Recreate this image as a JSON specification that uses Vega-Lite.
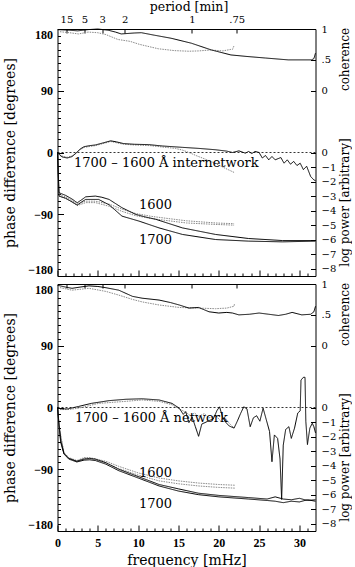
{
  "$schema": "https://vega.github.io/schema/vega-lite/v6.json",
  "padding": {"left": 2.5, "top": 0, "right": 0, "bottom": 0},
  "background": "white",
  "config": {
    "view": {"stroke": "black", "strokeWidth": 1},
    "axis": {"domain": false, "grid": false, "tickColor": "black", "labelColor": "black", "titleColor": "black", "labelFont": "Liberation Serif", "titleFont": "DejaVu Serif", "titleFontWeight": "normal", "labelFlush": false, "tickWidth": 1}
  },
  "datasets": {
    "phase": [
      {"p":"t","c":"g","f":0,"v":-1},{"p":"t","c":"g","f":0.5,"v":-5},{"p":"t","c":"g","f":1.2,"v":-7},{"p":"t","c":"g","f":1.8,"v":-5},{"p":"t","c":"g","f":2.3,"v":-1},{"p":"t","c":"g","f":2.8,"v":4},{"p":"t","c":"g","f":3.3,"v":7.5},{"p":"t","c":"g","f":4.7,"v":10},{"p":"t","c":"g","f":6.6,"v":16},{"p":"t","c":"g","f":8.2,"v":12},{"p":"t","c":"g","f":9.5,"v":11},{"p":"t","c":"g","f":11.5,"v":10},{"p":"t","c":"g","f":13,"v":8},{"p":"t","c":"g","f":14.6,"v":6},{"p":"t","c":"g","f":15.5,"v":3.5},{"p":"t","c":"g","f":16.3,"v":0},{"p":"t","c":"g","f":17.3,"v":-5},{"p":"t","c":"g","f":18.4,"v":-10},{"p":"t","c":"g","f":19.6,"v":-16},{"p":"t","c":"g","f":20.8,"v":-23},{"p":"t","c":"g","f":21.9,"v":-29},
      {"p":"t","c":"k","f":0,"v":0},{"p":"t","c":"k","f":0.3,"v":-4},{"p":"t","c":"k","f":0.6,"v":-6.5},{"p":"t","c":"k","f":1.2,"v":-8},{"p":"t","c":"k","f":1.8,"v":-6},{"p":"t","c":"k","f":2.3,"v":-1},{"p":"t","c":"k","f":2.8,"v":5},{"p":"t","c":"k","f":3.3,"v":8.5},{"p":"t","c":"k","f":4.0,"v":10},{"p":"t","c":"k","f":4.7,"v":11},{"p":"t","c":"k","f":5.5,"v":13.5},{"p":"t","c":"k","f":6.6,"v":17},{"p":"t","c":"k","f":7.3,"v":15.5},{"p":"t","c":"k","f":8.2,"v":13},{"p":"t","c":"k","f":9.5,"v":12},{"p":"t","c":"k","f":11.3,"v":11.5},{"p":"t","c":"k","f":13,"v":9.5},{"p":"t","c":"k","f":15.5,"v":7.5},{"p":"t","c":"k","f":17.5,"v":6},{"p":"t","c":"k","f":19.6,"v":4},{"p":"t","c":"k","f":21,"v":2},{"p":"t","c":"k","f":21.7,"v":0},{"p":"t","c":"k","f":22.5,"v":2.4},{"p":"t","c":"k","f":23.3,"v":-1},{"p":"t","c":"k","f":23.7,"v":1.5},{"p":"t","c":"k","f":24.1,"v":-1.5},{"p":"t","c":"k","f":24.5,"v":1.5},{"p":"t","c":"k","f":25,"v":0},{"p":"t","c":"k","f":25.4,"v":-8},{"p":"t","c":"k","f":25.8,"v":-4.4},{"p":"t","c":"k","f":26.2,"v":-10.7},{"p":"t","c":"k","f":26.6,"v":-5.8},{"p":"t","c":"k","f":27,"v":-10.7},{"p":"t","c":"k","f":27.7,"v":-7.3},{"p":"t","c":"k","f":28.1,"v":-15.6},{"p":"t","c":"k","f":28.5,"v":-10.7},{"p":"t","c":"k","f":28.9,"v":-17},{"p":"t","c":"k","f":29.3,"v":-13},{"p":"t","c":"k","f":29.7,"v":-19},{"p":"t","c":"k","f":30.1,"v":-15.6},{"p":"t","c":"k","f":30.5,"v":-25},{"p":"t","c":"k","f":30.9,"v":-20},{"p":"t","c":"k","f":31.4,"v":-35},{"p":"t","c":"k","f":31.8,"v":-40},{"p":"t","c":"k","f":32,"v":-41},
      {"p":"b","c":"g","f":0,"v":-3},{"p":"b","c":"g","f":1.3,"v":-3},{"p":"b","c":"g","f":2.6,"v":-1},{"p":"b","c":"g","f":5.1,"v":6},{"p":"b","c":"g","f":8.5,"v":9},{"p":"b","c":"g","f":10.5,"v":11},{"p":"b","c":"g","f":12.6,"v":9},{"p":"b","c":"g","f":14.2,"v":4},{"p":"b","c":"g","f":15.1,"v":-2},{"p":"b","c":"g","f":15.9,"v":-7},{"p":"b","c":"g","f":16.5,"v":-12},{"p":"b","c":"g","f":17.0,"v":-8},{"p":"b","c":"g","f":17.5,"v":-13},{"p":"b","c":"g","f":18.2,"v":-9},{"p":"b","c":"g","f":18.8,"v":-15},{"p":"b","c":"g","f":19.6,"v":-12},{"p":"b","c":"g","f":20.2,"v":-19},{"p":"b","c":"g","f":20.8,"v":-15},{"p":"b","c":"g","f":21.3,"v":-23},{"p":"b","c":"g","f":21.9,"v":-30},
      {"p":"b","c":"k","f":0,"v":-1},{"p":"b","c":"k","f":0.6,"v":-2},{"p":"b","c":"k","f":1.3,"v":-2},{"p":"b","c":"k","f":2.6,"v":1.5},{"p":"b","c":"k","f":4.2,"v":6},{"p":"b","c":"k","f":6.4,"v":10},{"p":"b","c":"k","f":8.5,"v":12},{"p":"b","c":"k","f":10.5,"v":12.7},{"p":"b","c":"k","f":12.6,"v":11},{"p":"b","c":"k","f":14.2,"v":6},{"p":"b","c":"k","f":15.1,"v":-1},{"p":"b","c":"k","f":15.6,"v":-10},{"p":"b","c":"k","f":15.9,"v":-6},{"p":"b","c":"k","f":16.3,"v":-22},{"p":"b","c":"k","f":16.7,"v":-14},{"p":"b","c":"k","f":17.1,"v":-28},{"p":"b","c":"k","f":17.5,"v":-42},{"p":"b","c":"k","f":17.9,"v":-24},{"p":"b","c":"k","f":18.3,"v":-22},{"p":"b","c":"k","f":18.8,"v":-19},{"p":"b","c":"k","f":19.3,"v":-17},{"p":"b","c":"k","f":19.8,"v":-4},{"p":"b","c":"k","f":20.1,"v":1},{"p":"b","c":"k","f":20.5,"v":-15},{"p":"b","c":"k","f":20.9,"v":-22},{"p":"b","c":"k","f":21.3,"v":-27},{"p":"b","c":"k","f":21.9,"v":-30},{"p":"b","c":"k","f":22.3,"v":-20},{"p":"b","c":"k","f":22.7,"v":-9},{"p":"b","c":"k","f":23.1,"v":1},{"p":"b","c":"k","f":23.5,"v":-2},{"p":"b","c":"k","f":23.9,"v":-28},{"p":"b","c":"k","f":24.3,"v":-15},{"p":"b","c":"k","f":24.7,"v":-12},{"p":"b","c":"k","f":25.1,"v":-20},{"p":"b","c":"k","f":25.5,"v":-1},{"p":"b","c":"k","f":25.9,"v":-18},{"p":"b","c":"k","f":26.3,"v":-35},{"p":"b","c":"k","f":26.6,"v":-79},{"p":"b","c":"k","f":26.9,"v":-40},{"p":"b","c":"k","f":27.3,"v":-45},{"p":"b","c":"k","f":27.6,"v":-75},{"p":"b","c":"k","f":27.8,"v":-134},{"p":"b","c":"k","f":28.0,"v":-55},{"p":"b","c":"k","f":28.3,"v":-32},{"p":"b","c":"k","f":28.7,"v":-28},{"p":"b","c":"k","f":29.0,"v":-45},{"p":"b","c":"k","f":29.4,"v":-30},{"p":"b","c":"k","f":29.8,"v":-8},{"p":"b","c":"k","f":30.1,"v":-5},{"p":"b","c":"k","f":30.2,"v":40},{"p":"b","c":"k","f":30.5,"v":44},{"p":"b","c":"k","f":30.7,"v":44},{"p":"b","c":"k","f":30.8,"v":-20},{"p":"b","c":"k","f":31.0,"v":-54},{"p":"b","c":"k","f":31.3,"v":-30},{"p":"b","c":"k","f":31.6,"v":-23},{"p":"b","c":"k","f":31.8,"v":-28},{"p":"b","c":"k","f":32,"v":-37}
    ],
    "coh": [
      {"p":"t","c":"g","f":0,"v":0.96},{"p":"t","c":"g","f":1.5,"v":0.94},{"p":"t","c":"g","f":2.6,"v":0.92},{"p":"t","c":"g","f":3.8,"v":0.95},{"p":"t","c":"g","f":5,"v":0.94},{"p":"t","c":"g","f":6,"v":0.91},{"p":"t","c":"g","f":7.5,"v":0.83},{"p":"t","c":"g","f":9,"v":0.8},{"p":"t","c":"g","f":10.2,"v":0.75},{"p":"t","c":"g","f":12.5,"v":0.68},{"p":"t","c":"g","f":14.5,"v":0.65},{"p":"t","c":"g","f":16.3,"v":0.64},{"p":"t","c":"g","f":17.5,"v":0.645},{"p":"t","c":"g","f":19,"v":0.66},{"p":"t","c":"g","f":20.5,"v":0.645},{"p":"t","c":"g","f":21.5,"v":0.67},{"p":"t","c":"g","f":21.7,"v":0.67},{"p":"t","c":"g","f":21.9,"v":0.73},
      {"p":"t","c":"k","f":0,"v":0.99},{"p":"t","c":"k","f":1.5,"v":0.98},{"p":"t","c":"k","f":2.5,"v":0.97},{"p":"t","c":"k","f":3.8,"v":0.99},{"p":"t","c":"k","f":5,"v":1.0},{"p":"t","c":"k","f":6.3,"v":0.98},{"p":"t","c":"k","f":7.2,"v":0.95},{"p":"t","c":"k","f":7.9,"v":0.92},{"p":"t","c":"k","f":9.5,"v":0.935},{"p":"t","c":"k","f":10.4,"v":0.94},{"p":"t","c":"k","f":12,"v":0.9},{"p":"t","c":"k","f":14.1,"v":0.85},{"p":"t","c":"k","f":16.6,"v":0.77},{"p":"t","c":"k","f":19.1,"v":0.66},{"p":"t","c":"k","f":21.5,"v":0.58},{"p":"t","c":"k","f":23.5,"v":0.555},{"p":"t","c":"k","f":25.8,"v":0.53},{"p":"t","c":"k","f":28.6,"v":0.5},{"p":"t","c":"k","f":31.5,"v":0.5},{"p":"t","c":"k","f":31.8,"v":0.52},{"p":"t","c":"k","f":32,"v":0.61},
      {"p":"b","c":"g","f":0,"v":0.95},{"p":"b","c":"g","f":1.8,"v":0.9},{"p":"b","c":"g","f":3.9,"v":0.93},{"p":"b","c":"g","f":6,"v":0.88},{"p":"b","c":"g","f":7.6,"v":0.82},{"p":"b","c":"g","f":9.3,"v":0.75},{"p":"b","c":"g","f":10.5,"v":0.71},{"p":"b","c":"g","f":12.6,"v":0.66},{"p":"b","c":"g","f":15.1,"v":0.62},{"p":"b","c":"g","f":17.5,"v":0.61},{"p":"b","c":"g","f":19.6,"v":0.6},{"p":"b","c":"g","f":21,"v":0.61},{"p":"b","c":"g","f":21.9,"v":0.64},{"p":"b","c":"g","f":21.95,"v":0.68},
      {"p":"b","c":"k","f":0,"v":0.98},{"p":"b","c":"k","f":1,"v":0.95},{"p":"b","c":"k","f":1.8,"v":0.93},{"p":"b","c":"k","f":2.8,"v":0.95},{"p":"b","c":"k","f":3.9,"v":0.97},{"p":"b","c":"k","f":5,"v":0.96},{"p":"b","c":"k","f":6,"v":0.94},{"p":"b","c":"k","f":7.6,"v":0.9},{"p":"b","c":"k","f":9.3,"v":0.8},{"p":"b","c":"k","f":10.5,"v":0.77},{"p":"b","c":"k","f":12.6,"v":0.74},{"p":"b","c":"k","f":14,"v":0.7},{"p":"b","c":"k","f":15.1,"v":0.66},{"p":"b","c":"k","f":16.3,"v":0.61},{"p":"b","c":"k","f":17.5,"v":0.62},{"p":"b","c":"k","f":18.8,"v":0.55},{"p":"b","c":"k","f":20,"v":0.53},{"p":"b","c":"k","f":21,"v":0.54},{"p":"b","c":"k","f":21.7,"v":0.53},{"p":"b","c":"k","f":22.5,"v":0.5},{"p":"b","c":"k","f":23.8,"v":0.51},{"p":"b","c":"k","f":25,"v":0.53},{"p":"b","c":"k","f":26.2,"v":0.51},{"p":"b","c":"k","f":27.4,"v":0.49},{"p":"b","c":"k","f":28.3,"v":0.51},{"p":"b","c":"k","f":29.1,"v":0.54},{"p":"b","c":"k","f":29.7,"v":0.52},{"p":"b","c":"k","f":30.3,"v":0.5},{"p":"b","c":"k","f":31.4,"v":0.51},{"p":"b","c":"k","f":31.8,"v":0.55},{"p":"b","c":"k","f":32,"v":0.64}
    ],
    "pow": [
      {"p":"t","s":"g16","c":"g","f":0.19,"v":-2.9},{"p":"t","s":"g16","c":"g","f":1,"v":-3.05},{"p":"t","s":"g16","c":"g","f":1.8,"v":-3.3},{"p":"t","s":"g16","c":"g","f":2.45,"v":-3.55},{"p":"t","s":"g16","c":"g","f":3.5,"v":-3.35},{"p":"t","s":"g16","c":"g","f":4.7,"v":-3.35},{"p":"t","s":"g16","c":"g","f":6.4,"v":-3.55},{"p":"t","s":"g16","c":"g","f":8,"v":-3.9},{"p":"t","s":"g16","c":"g","f":9.7,"v":-4.2},{"p":"t","s":"g16","c":"g","f":11.7,"v":-4.4},{"p":"t","s":"g16","c":"g","f":13.8,"v":-4.55},{"p":"t","s":"g16","c":"g","f":16,"v":-4.7},{"p":"t","s":"g16","c":"g","f":19.6,"v":-4.85},{"p":"t","s":"g16","c":"g","f":21.9,"v":-4.9},
      {"p":"t","s":"g17","c":"g","f":0.19,"v":-3.0},{"p":"t","s":"g17","c":"g","f":1,"v":-3.15},{"p":"t","s":"g17","c":"g","f":1.8,"v":-3.4},{"p":"t","s":"g17","c":"g","f":2.45,"v":-3.65},{"p":"t","s":"g17","c":"g","f":3.5,"v":-3.45},{"p":"t","s":"g17","c":"g","f":4.7,"v":-3.45},{"p":"t","s":"g17","c":"g","f":6.4,"v":-3.7},{"p":"t","s":"g17","c":"g","f":8,"v":-4.05},{"p":"t","s":"g17","c":"g","f":9.7,"v":-4.35},{"p":"t","s":"g17","c":"g","f":11.7,"v":-4.55},{"p":"t","s":"g17","c":"g","f":13.8,"v":-4.7},{"p":"t","s":"g17","c":"g","f":16,"v":-4.85},{"p":"t","s":"g17","c":"g","f":19.6,"v":-4.95},{"p":"t","s":"g17","c":"g","f":21.9,"v":-5.0},
      {"p":"t","s":"k16","c":"k","f":0,"v":0},{"p":"t","s":"k16","c":"k","f":0.19,"v":-2.77},{"p":"t","s":"k16","c":"k","f":1,"v":-2.95},{"p":"t","s":"k16","c":"k","f":1.8,"v":-3.2},{"p":"t","s":"k16","c":"k","f":2.45,"v":-3.46},{"p":"t","s":"k16","c":"k","f":3,"v":-3.25},{"p":"t","s":"k16","c":"k","f":3.5,"v":-3.05},{"p":"t","s":"k16","c":"k","f":4.7,"v":-3.0},{"p":"t","s":"k16","c":"k","f":5.5,"v":-3.08},{"p":"t","s":"k16","c":"k","f":6.4,"v":-3.23},{"p":"t","s":"k16","c":"k","f":8,"v":-3.8},{"p":"t","s":"k16","c":"k","f":9.7,"v":-4.26},{"p":"t","s":"k16","c":"k","f":11,"v":-4.45},{"p":"t","s":"k16","c":"k","f":12.2,"v":-4.6},{"p":"t","s":"k16","c":"k","f":15.5,"v":-5.19},{"p":"t","s":"k16","c":"k","f":19.6,"v":-5.64},{"p":"t","s":"k16","c":"k","f":23.7,"v":-5.92},{"p":"t","s":"k16","c":"k","f":27.9,"v":-6.06},{"p":"t","s":"k16","c":"k","f":32,"v":-6.06},
      {"p":"t","s":"k17","c":"k","f":0,"v":0},{"p":"t","s":"k17","c":"k","f":0.19,"v":-3.0},{"p":"t","s":"k17","c":"k","f":1,"v":-3.15},{"p":"t","s":"k17","c":"k","f":1.8,"v":-3.4},{"p":"t","s":"k17","c":"k","f":2.45,"v":-3.62},{"p":"t","s":"k17","c":"k","f":3,"v":-3.4},{"p":"t","s":"k17","c":"k","f":3.5,"v":-3.23},{"p":"t","s":"k17","c":"k","f":5.1,"v":-3.23},{"p":"t","s":"k17","c":"k","f":6.4,"v":-3.6},{"p":"t","s":"k17","c":"k","f":8,"v":-4.38},{"p":"t","s":"k17","c":"k","f":10.1,"v":-4.72},{"p":"t","s":"k17","c":"k","f":12.6,"v":-5.19},{"p":"t","s":"k17","c":"k","f":15.5,"v":-5.64},{"p":"t","s":"k17","c":"k","f":19.6,"v":-5.99},{"p":"t","s":"k17","c":"k","f":23.7,"v":-6.1},{"p":"t","s":"k17","c":"k","f":27.9,"v":-6.15},{"p":"t","s":"k17","c":"k","f":32,"v":-6.1},
      {"p":"b","s":"g16","c":"g","f":0.2,"v":-1.3},{"p":"b","s":"g16","c":"g","f":0.8,"v":-3.1},{"p":"b","s":"g16","c":"g","f":1.4,"v":-3.45},{"p":"b","s":"g16","c":"g","f":2.4,"v":-3.65},{"p":"b","s":"g16","c":"g","f":3.3,"v":-3.45},{"p":"b","s":"g16","c":"g","f":4,"v":-3.45},{"p":"b","s":"g16","c":"g","f":6,"v":-3.7},{"p":"b","s":"g16","c":"g","f":7.6,"v":-4.05},{"p":"b","s":"g16","c":"g","f":10,"v":-4.5},{"p":"b","s":"g16","c":"g","f":12.6,"v":-4.85},{"p":"b","s":"g16","c":"g","f":15,"v":-5.05},{"p":"b","s":"g16","c":"g","f":17.5,"v":-5.2},{"p":"b","s":"g16","c":"g","f":20,"v":-5.3},{"p":"b","s":"g16","c":"g","f":22,"v":-5.35},
      {"p":"b","s":"g17","c":"g","f":0.2,"v":-1.4},{"p":"b","s":"g17","c":"g","f":0.8,"v":-3.15},{"p":"b","s":"g17","c":"g","f":1.4,"v":-3.5},{"p":"b","s":"g17","c":"g","f":2.4,"v":-3.7},{"p":"b","s":"g17","c":"g","f":3.3,"v":-3.5},{"p":"b","s":"g17","c":"g","f":4,"v":-3.5},{"p":"b","s":"g17","c":"g","f":6,"v":-3.8},{"p":"b","s":"g17","c":"g","f":7.6,"v":-4.2},{"p":"b","s":"g17","c":"g","f":10,"v":-4.65},{"p":"b","s":"g17","c":"g","f":12.6,"v":-5.05},{"p":"b","s":"g17","c":"g","f":15,"v":-5.25},{"p":"b","s":"g17","c":"g","f":17.5,"v":-5.4},{"p":"b","s":"g17","c":"g","f":20,"v":-5.5},{"p":"b","s":"g17","c":"g","f":22,"v":-5.55},
      {"p":"b","s":"k16","c":"k","f":0,"v":0},{"p":"b","s":"k16","c":"k","f":0.2,"v":-1.2},{"p":"b","s":"k16","c":"k","f":0.4,"v":-2.3},{"p":"b","s":"k16","c":"k","f":0.8,"v":-3.15},{"p":"b","s":"k16","c":"k","f":1.4,"v":-3.5},{"p":"b","s":"k16","c":"k","f":2.4,"v":-3.7},{"p":"b","s":"k16","c":"k","f":3.3,"v":-3.55},{"p":"b","s":"k16","c":"k","f":4,"v":-3.5},{"p":"b","s":"k16","c":"k","f":4.7,"v":-3.55},{"p":"b","s":"k16","c":"k","f":6,"v":-3.8},{"p":"b","s":"k16","c":"k","f":7.6,"v":-4.25},{"p":"b","s":"k16","c":"k","f":10,"v":-4.75},{"p":"b","s":"k16","c":"k","f":12.6,"v":-5.3},{"p":"b","s":"k16","c":"k","f":15,"v":-5.6},{"p":"b","s":"k16","c":"k","f":17.5,"v":-5.9},{"p":"b","s":"k16","c":"k","f":20,"v":-6.05},{"p":"b","s":"k16","c":"k","f":23.7,"v":-6.2},{"p":"b","s":"k16","c":"k","f":26,"v":-6.3},{"p":"b","s":"k16","c":"k","f":27,"v":-6.15},{"p":"b","s":"k16","c":"k","f":28,"v":-6.3},{"p":"b","s":"k16","c":"k","f":29,"v":-6.35},{"p":"b","s":"k16","c":"k","f":30,"v":-6.25},{"p":"b","s":"k16","c":"k","f":31,"v":-6.4},{"p":"b","s":"k16","c":"k","f":32,"v":-6.35},
      {"p":"b","s":"k17","c":"k","f":0,"v":0},{"p":"b","s":"k17","c":"k","f":0.2,"v":-1.3},{"p":"b","s":"k17","c":"k","f":0.4,"v":-2.4},{"p":"b","s":"k17","c":"k","f":0.8,"v":-3.2},{"p":"b","s":"k17","c":"k","f":1.4,"v":-3.55},{"p":"b","s":"k17","c":"k","f":2.4,"v":-3.75},{"p":"b","s":"k17","c":"k","f":3.3,"v":-3.62},{"p":"b","s":"k17","c":"k","f":4,"v":-3.6},{"p":"b","s":"k17","c":"k","f":4.7,"v":-3.65},{"p":"b","s":"k17","c":"k","f":6,"v":-3.9},{"p":"b","s":"k17","c":"k","f":7.6,"v":-4.35},{"p":"b","s":"k17","c":"k","f":10,"v":-4.85},{"p":"b","s":"k17","c":"k","f":12.6,"v":-5.4},{"p":"b","s":"k17","c":"k","f":15,"v":-5.75},{"p":"b","s":"k17","c":"k","f":17.5,"v":-6.0},{"p":"b","s":"k17","c":"k","f":20,"v":-6.15},{"p":"b","s":"k17","c":"k","f":23.7,"v":-6.3},{"p":"b","s":"k17","c":"k","f":26,"v":-6.4},{"p":"b","s":"k17","c":"k","f":27,"v":-6.45},{"p":"b","s":"k17","c":"k","f":28,"v":-6.55},{"p":"b","s":"k17","c":"k","f":29,"v":-6.45},{"p":"b","s":"k17","c":"k","f":30,"v":-6.5},{"p":"b","s":"k17","c":"k","f":31,"v":-6.35},{"p":"b","s":"k17","c":"k","f":32,"v":-6.45}
    ],
    "txt": [
      {"p":"t","f":2.05,"v":-15.6,"t":"1700 – 1600 Å internetwork"},
      {"p":"t","f":10.1,"v":-77,"t":"1600"},
      {"p":"t","f":10.1,"v":-128,"t":"1700"},
      {"p":"b","f":2.17,"v":-14.6,"t":"1700 – 1600 Å network"},
      {"p":"b","f":10.1,"v":-96,"t":"1600"},
      {"p":"b","f":10.1,"v":-141,"t":"1700"}
    ]
  },
  "spacing": 8,
  "bounds": "flush",
  "vconcat": [
    {
      "width": 258, "height": 247,
      "resolve": {"scale": {"y": "independent"}, "axis": {"x": "independent", "y": "independent"}},
      "layer": [
        {
          "data": {"values": [{}]},
          "mark": {"type": "rule", "strokeDash": [2, 2], "strokeWidth": 0.8, "color": "black"},
          "encoding": {
            "y": {"datum": 0, "type": "quantitative", "scale": {"domain": [-180, 180], "nice": false}, "axis": {"orient": "left", "values": [-170,-160,-150,-140,-130,-120,-110,-100,-80,-70,-60,-50,-40,-30,-20,-10,10,20,30,40,50,60,70,80,100,110,120,130,140,150,160,170], "tickSize": -3, "labels": false, "title": null}}
          }
        },
        {
          "data": {"name": "phase"},
          "transform": [{"filter": "datum.p == 't'"}],
          "mark": {"type": "line", "strokeWidth": 1},
          "encoding": {
            "x": {"field": "f", "type": "quantitative", "scale": {"domain": [0, 32], "nice": false, "zero": false}, "axis": {"orient": "bottom", "values": [0, 5, 10, 15, 20, 25, 30], "tickSize": -6, "labels": false, "title": null}},
            "y": {"field": "v", "type": "quantitative", "scale": {"domain": [-180, 180], "nice": false}, "axis": {"orient": "left", "values": [-180, -90, 0, 90, 180], "format": "d", "tickSize": -6, "labelPadding": 11, "labelFontSize": 12, "labelFontWeight": "bold", "labelFlush": true, "title": "phase difference [degrees]", "titleFontSize": 14, "titleX": -47, "titleY": 123.5, "titleAngle": 270, "titleAlign": "center", "titleBaseline": "middle"}},
            "color": {"field": "c", "type": "nominal", "scale": {"domain": ["k", "g"], "range": ["black", "#8a8a8a"]}, "legend": null},
            "strokeDash": {"field": "c", "type": "nominal", "scale": {"domain": ["k", "g"], "range": [[1, 0], [1.5, 1]]}, "legend": null}
          }
        },
        {
          "data": {"name": "coh"},
          "transform": [{"filter": "datum.p == 't'"}],
          "mark": {"type": "line", "strokeWidth": 1},
          "encoding": {
            "x": {"field": "f", "type": "quantitative", "scale": {"domain": [0, 32], "nice": false, "zero": false}, "axis": {"orient": "top", "values": [1.1111, 3.3333, 5.5556, 8.3333, 16.6667, 22.2222], "labelExpr": "datum.value < 2 ? '15' : datum.value < 4 ? '5' : datum.value < 6 ? '3' : datum.value < 10 ? '2' : datum.value < 20 ? '1' : '.75'", "tickSize": -4, "labelPadding": 9, "labelFont": "DejaVu Serif", "labelFontSize": 10, "title": "period [min]", "titleFontSize": 12.5, "titleX": 131, "titleY": -22.5, "titleBaseline": "middle", "titleAlign": "center"}},
            "y": {"field": "v", "type": "quantitative", "scale": {"domain": [-3, 1], "nice": false, "zero": false}, "axis": {"orient": "right", "values": [0, 0.5, 1], "labelExpr": "datum.value == 0.5 ? '.5' : datum.label", "tickSize": -5, "labelPadding": 10.5, "labelFont": "DejaVu Serif", "labelFontSize": 10, "title": "coherence", "titleFontSize": 12, "titleX": 29, "titleY": 30, "titleAngle": 270, "titleAlign": "center", "titleBaseline": "middle"}},
            "color": {"field": "c", "type": "nominal", "scale": {"domain": ["k", "g"], "range": ["black", "#8a8a8a"]}, "legend": null},
            "strokeDash": {"field": "c", "type": "nominal", "scale": {"domain": ["k", "g"], "range": [[1, 0], [1.5, 1]]}, "legend": null}
          }
        },
        {
          "data": {"name": "pow"},
          "transform": [{"filter": "datum.p == 't'"}],
          "mark": {"type": "line", "strokeWidth": 1},
          "encoding": {
            "x": {"field": "f", "type": "quantitative", "scale": {"domain": [0, 32], "nice": false, "zero": false}, "axis": null},
            "y": {"field": "v", "type": "quantitative", "scale": {"domain": [-8.5, 8.5], "nice": false, "zero": false}, "axis": {"orient": "right", "values": [0, -1, -2, -3, -4, -5, -6, -7, -8], "format": "d", "tickSize": -5, "labelPadding": 10.5, "labelFont": "DejaVu Serif", "labelFontSize": 10, "title": "log power [arbitrary]", "titleFontSize": 12, "titleX": 29, "titleY": 173, "titleAngle": 270, "titleAlign": "center", "titleBaseline": "middle"}},
            "detail": {"field": "s", "type": "nominal"},
            "color": {"field": "c", "type": "nominal", "scale": {"domain": ["k", "g"], "range": ["black", "#8a8a8a"]}, "legend": null},
            "strokeDash": {"field": "c", "type": "nominal", "scale": {"domain": ["k", "g"], "range": [[1, 0], [1.5, 1]]}, "legend": null}
          }
        },
        {
          "data": {"name": "txt"},
          "transform": [{"filter": "datum.p == 't'"}],
          "mark": {"type": "text", "align": "left", "baseline": "middle", "font": "DejaVu Serif", "fontSize": 13, "color": "black"},
          "encoding": {
            "x": {"field": "f", "type": "quantitative", "scale": {"domain": [0, 32], "nice": false, "zero": false}, "axis": {"orient": "bottom", "values": [1,2,3,4,6,7,8,9,11,12,13,14,16,17,18,19,21,22,23,24,26,27,28,29,31], "tickSize": -3, "labels": false, "title": null}},
            "y": {"field": "v", "type": "quantitative", "scale": {"domain": [-180, 180], "nice": false}, "axis": null},
            "text": {"field": "t"}
          }
        }
      ]
    },
    {
      "width": 258, "height": 247,
      "resolve": {"scale": {"y": "independent"}, "axis": {"x": "independent", "y": "independent"}},
      "layer": [
        {
          "data": {"values": [{}]},
          "mark": {"type": "rule", "strokeDash": [2, 2], "strokeWidth": 0.8, "color": "black"},
          "encoding": {
            "y": {"datum": 0, "type": "quantitative", "scale": {"domain": [-180, 180], "nice": false}, "axis": {"orient": "left", "values": [-170,-160,-150,-140,-130,-120,-110,-100,-80,-70,-60,-50,-40,-30,-20,-10,10,20,30,40,50,60,70,80,100,110,120,130,140,150,160,170], "tickSize": -3, "labels": false, "title": null}}
          }
        },
        {
          "data": {"name": "phase"},
          "transform": [{"filter": "datum.p == 'b'"}],
          "mark": {"type": "line", "strokeWidth": 1},
          "encoding": {
            "x": {"field": "f", "type": "quantitative", "scale": {"domain": [0, 32], "nice": false, "zero": false}, "axis": {"orient": "bottom", "values": [0, 5, 10, 15, 20, 25, 30], "tickSize": -6, "labelPadding": 12, "labelFontSize": 12, "labelFontWeight": "bold", "title": "frequency [mHz]", "titleFontSize": 14, "titleX": 129, "titleY": 29, "titleBaseline": "middle", "titleAlign": "center"}},
            "y": {"field": "v", "type": "quantitative", "scale": {"domain": [-180, 180], "nice": false}, "axis": {"orient": "left", "values": [-180, -90, 0, 90, 180], "format": "d", "tickSize": -6, "labelPadding": 11, "labelFontSize": 12, "labelFontWeight": "bold", "labelFlush": true, "title": "phase difference [degrees]", "titleFontSize": 14, "titleX": -47, "titleY": 123.5, "titleAngle": 270, "titleAlign": "center", "titleBaseline": "middle"}},
            "color": {"field": "c", "type": "nominal", "scale": {"domain": ["k", "g"], "range": ["black", "#8a8a8a"]}, "legend": null},
            "strokeDash": {"field": "c", "type": "nominal", "scale": {"domain": ["k", "g"], "range": [[1, 0], [1.5, 1]]}, "legend": null}
          }
        },
        {
          "data": {"name": "coh"},
          "transform": [{"filter": "datum.p == 'b'"}],
          "mark": {"type": "line", "strokeWidth": 1},
          "encoding": {
            "x": {"field": "f", "type": "quantitative", "scale": {"domain": [0, 32], "nice": false, "zero": false}, "axis": {"orient": "top", "values": [1.1111, 3.3333, 5.5556, 8.3333, 16.6667, 22.2222], "tickSize": -4, "labels": false, "title": null}},
            "y": {"field": "v", "type": "quantitative", "scale": {"domain": [-3, 1], "nice": false, "zero": false}, "axis": {"orient": "right", "values": [0, 0.5, 1], "labelExpr": "datum.value == 0.5 ? '.5' : datum.label", "tickSize": -5, "labelPadding": 10.5, "labelFont": "DejaVu Serif", "labelFontSize": 10, "title": "coherence", "titleFontSize": 12, "titleX": 29, "titleY": 30, "titleAngle": 270, "titleAlign": "center", "titleBaseline": "middle"}},
            "color": {"field": "c", "type": "nominal", "scale": {"domain": ["k", "g"], "range": ["black", "#8a8a8a"]}, "legend": null},
            "strokeDash": {"field": "c", "type": "nominal", "scale": {"domain": ["k", "g"], "range": [[1, 0], [1.5, 1]]}, "legend": null}
          }
        },
        {
          "data": {"name": "pow"},
          "transform": [{"filter": "datum.p == 'b'"}],
          "mark": {"type": "line", "strokeWidth": 1},
          "encoding": {
            "x": {"field": "f", "type": "quantitative", "scale": {"domain": [0, 32], "nice": false, "zero": false}, "axis": null},
            "y": {"field": "v", "type": "quantitative", "scale": {"domain": [-8.5, 8.5], "nice": false, "zero": false}, "axis": {"orient": "right", "values": [0, -1, -2, -3, -4, -5, -6, -7, -8], "format": "d", "tickSize": -5, "labelPadding": 10.5, "labelFont": "DejaVu Serif", "labelFontSize": 10, "title": "log power [arbitrary]", "titleFontSize": 12, "titleX": 29, "titleY": 173, "titleAngle": 270, "titleAlign": "center", "titleBaseline": "middle"}},
            "detail": {"field": "s", "type": "nominal"},
            "color": {"field": "c", "type": "nominal", "scale": {"domain": ["k", "g"], "range": ["black", "#8a8a8a"]}, "legend": null},
            "strokeDash": {"field": "c", "type": "nominal", "scale": {"domain": ["k", "g"], "range": [[1, 0], [1.5, 1]]}, "legend": null}
          }
        },
        {
          "data": {"name": "txt"},
          "transform": [{"filter": "datum.p == 'b'"}],
          "mark": {"type": "text", "align": "left", "baseline": "middle", "font": "DejaVu Serif", "fontSize": 13, "color": "black"},
          "encoding": {
            "x": {"field": "f", "type": "quantitative", "scale": {"domain": [0, 32], "nice": false, "zero": false}, "axis": {"orient": "bottom", "values": [1,2,3,4,6,7,8,9,11,12,13,14,16,17,18,19,21,22,23,24,26,27,28,29,31], "tickSize": -3, "labels": false, "title": null}},
            "y": {"field": "v", "type": "quantitative", "scale": {"domain": [-180, 180], "nice": false}, "axis": null},
            "text": {"field": "t"}
          }
        }
      ]
    }
  ]
}
